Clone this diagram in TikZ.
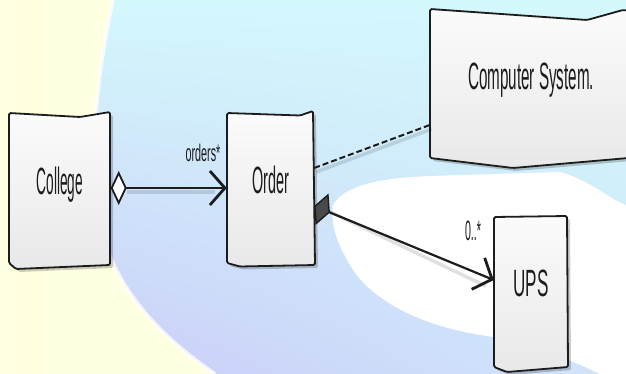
\documentclass[tikz,border=0pt]{standalone}
\usepackage{fontspec}
\setmainfont{Liberation Sans}
\usepackage{graphicx}
\usetikzlibrary{arrows.meta,shadows,shadings}

\definecolor{bgyellow}{HTML}{FFFFE2}
\definecolor{bgcyan}{HTML}{D3F8FC}
\definecolor{bgblue}{HTML}{CFE6FA}
\definecolor{bglav}{HTML}{CBCDF8}
\definecolor{ink}{HTML}{1C1C1C}
\definecolor{boxtop}{HTML}{FBFBFB}
\definecolor{boxbot}{HTML}{E8E8E8}

% condensed, lifted box caption
\newcommand\handcap[2][0.44]{\raisebox{9pt}{\scalebox{#1}[1]{#2}}}

\pgfdeclarelayer{back}
\pgfdeclarelayer{boxes}
\pgfsetlayers{back,boxes,main}

\begin{document}
\begin{tikzpicture}[x=1pt,y=-1pt,
  boxnode/.style={rectangle, inner sep=0pt, font=\fontsize{38}{38}\selectfont, text=ink,
    text height=27pt, text depth=0pt},
  sketch/.style={draw=ink, line width=1.8pt, line join=round, rounded corners=1.5pt,
    top color=boxtop, bottom color=boxbot,
    drop shadow={shadow xshift=3pt, shadow yshift=-3pt, opacity=0.2, fill=black}},
  lbl/.style={inner sep=0pt, text=ink},
  assoc/.style={draw=ink, line width=2.2pt},
  linkshadow/.style={draw=black, line width=3.5pt, opacity=0.12},
  dashlink/.style={draw=ink, line width=2pt, dash pattern=on 6pt off 3pt},
  barb/.tip={Straight Barb[length=15pt, width=34pt, line width=2.8pt]}
]
\useasboundingbox (0,0) rectangle (626,374);

% ---- background wash ----
\begin{pgfonlayer}{back}
  \fill[bgyellow] (0,0) rectangle (626,374);
  \shade[left color=bgyellow, right color=yellow!14] (0,0) rectangle (40,374);
  \shade[upper left=bgcyan, upper right=bgcyan, lower left=bglav, lower right=bgblue]
    (113,0) .. controls (95,80) and (88,170) .. (100,225)
    .. controls (112,280) and (150,330) .. (215,374) -- (626,374) -- (626,0) -- cycle;
  \draw[white, line width=4pt, opacity=0.75]
    (113,0) .. controls (95,80) and (88,170) .. (100,225)
    .. controls (112,280) and (150,330) .. (215,374);
  \fill[white]
    (333,205) .. controls (345,185) and (380,178) .. (430,176) -- (560,172)
    .. controls (590,180) and (610,200) .. (626,205) -- (626,374) -- (600,374)
    .. controls (560,355) and (520,340) .. (480,335)
    .. controls (420,325) and (370,300) .. (350,265)
    .. controls (338,245) and (330,225) .. (333,205) -- cycle;
\end{pgfonlayer}

% ---- classes ----
\node[boxnode, minimum width=101pt, minimum height=154pt] (college) at (60,190) {\handcap[0.36]{College}};
\node[boxnode, minimum width=87pt, minimum height=153pt] (order) at (270.5,189) {\handcap[0.38]{Order}};
\node[boxnode, minimum width=202pt, minimum height=150pt] (comp) at (531,85) {\handcap[0.40]{Computer System.}};
\node[boxnode, minimum width=74pt, minimum height=152pt] (ups) at (531,292) {\handcap[0.45]{UPS}};

\begin{pgfonlayer}{boxes}
  \path[sketch] (9,113) -- (80,117) -- (110,112) -- (110,265) -- (16,269) -- (9,263) -- cycle;
  \path[sketch] (227,113) -- (300,115.5) -- (313,111) -- (315,265) -- (240,266.5) -- (227,263) -- cycle;
  \path[sketch] (430,9) -- (587,20) -- (623,10) -- (640,12) -- (640,157) -- (513,168) -- (430,158) -- cycle;
  \path[sketch] (494,217) -- (567,216) -- (568,367) -- (507,372) -- (494,367) -- cycle;
\end{pgfonlayer}

% ---- connector shadows ----
\path[linkshadow] ([shift={(2,-17)}]order.east) -- ([shift={(2,44)}]comp.west);
\path[linkshadow] ([shift={(14,22)}]order.east) -- ([shift={(-8,-6)}]ups.west);
\path[linkshadow] ([shift={(16,2)}]college.east) -- ([shift={(-12,3)}]order.west);

% ---- connectors ----
\draw[assoc, {Diamond[length=16pt, width=34pt, fill=white, line width=1.8pt]}-barb]
  ([shift={(0,-2)}]college.east) -- ([shift={(0,-1)}]order.west);
\draw[dashlink] ([shift={(0,-21)}]order.east) -- ([shift={(0,40)}]comp.west);
\draw[assoc, {Diamond[length=17pt, width=34pt, fill=ink!80, line width=1.4pt]}-barb]
  ([shift={(0,17)}]order.east) -- ([shift={(0,-12)}]ups.west);

% ---- role labels ----
\node[lbl, font=\fontsize{24}{24}\selectfont] (rolelbl) at (203,153) {\scalebox{0.45}[1]{orders*}};
\node[lbl, font=\fontsize{28}{28}\selectfont] (multlbl) at (473,231) {\scalebox{0.38}[1]{0..*}};
\end{tikzpicture}
\end{document}
